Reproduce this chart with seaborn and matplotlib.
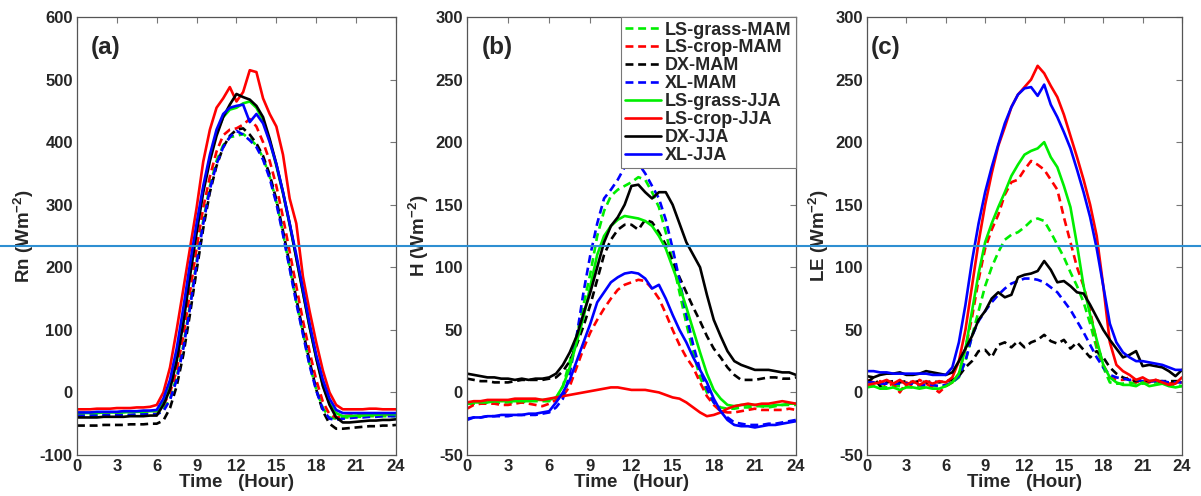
#!/usr/bin/env python3
"""Diurnal cycles of Rn, H and LE for the four sites, MAM vs JJA."""
import numpy as np
import pandas as pd
import matplotlib
matplotlib.use('Agg')
import matplotlib.pyplot as plt
from matplotlib.lines import Line2D
import seaborn as sns

hours = np.arange(0, 24.5, 0.5)

names = ['LS-grass-MAM', 'LS-crop-MAM', 'DX-MAM', 'XL-MAM',
         'LS-grass-JJA', 'LS-crop-JJA', 'DX-JJA', 'XL-JJA']
colors = ['#00ee00', '#ff0000', '#000000', '#0000ff',
          '#00ee00', '#ff0000', '#000000', '#0000ff']
styles = ['--', '--', '--', '--', '-', '-', '-', '-']

# ---- (a) Rn, half-hourly, 0..24 h
rn_grass_mam = [-37, -37, -37, -37, -37, -36, -36, -36, -36, -36, -35, -35, -35, -28, -10, 25, 75, 140,
                210, 275, 330, 370, 395, 408, 410, 413, 405, 395, 375, 345, 305, 255, 200, 145, 95, 45,
                5, -25, -40, -42, -40, -40, -39, -39, -38, -38, -38, -38, -38]
rn_crop_mam = [-33, -33, -33, -32, -32, -32, -32, -31, -31, -31, -31, -30, -30, -20, 0, 35, 90, 160,
               230, 295, 345, 385, 411, 420, 422, 428, 437, 425, 400, 370, 330, 280, 225, 170, 115, 65,
               20, -15, -35, -40, -38, -37, -37, -36, -36, -36, -35, -35, -35]
rn_dx_mam = [-53, -53, -53, -53, -52, -52, -52, -52, -51, -51, -51, -50, -50, -45, -25, 10, 60, 125,
             195, 262, 320, 362, 392, 410, 420, 422, 412, 398, 378, 348, 308, 258, 205, 150, 98, 50,
             5, -30, -50, -58, -58, -57, -56, -55, -54, -54, -53, -53, -52]
rn_xl_mam = [-37, -37, -37, -36, -36, -36, -36, -36, -36, -35, -35, -35, -35, -30, -12, 20, 70, 135,
             205, 270, 325, 365, 392, 408, 418, 412, 403, 392, 372, 342, 302, 252, 198, 143, 93, 43,
             3, -27, -42, -44, -42, -41, -40, -40, -39, -39, -38, -38, -38]
rn_grass_jja = [-33, -33, -33, -33, -32, -32, -32, -32, -31, -31, -31, -30, -30, -15, 10, 58, 122, 195,
                262, 325, 375, 415, 440, 452, 455, 462, 465, 455, 435, 402, 362, 318, 268, 215, 160, 105,
                55, 12, -18, -33, -38, -38, -37, -37, -36, -36, -35, -35, -35]
rn_crop_jja = [-27, -27, -27, -26, -26, -26, -25, -25, -25, -24, -24, -23, -20, 0, 40, 100, 165, 230,
               295, 369, 420, 455, 470, 488, 465, 480, 515, 512, 470, 445, 425, 380, 310, 270, 185, 130,
               80, 35, 0, -20, -27, -27, -27, -27, -26, -26, -27, -27, -27]
rn_dx_jja = [-40, -40, -40, -40, -39, -39, -39, -39, -38, -38, -38, -37, -37, -20, 5, 50, 110, 185,
             255, 320, 370, 410, 440, 460, 477, 472, 468, 458, 440, 405, 365, 320, 270, 215, 160, 105,
             55, 10, -20, -40, -48, -48, -47, -46, -45, -45, -44, -44, -43]
rn_xl_jja = [-32, -32, -32, -31, -31, -31, -31, -30, -30, -30, -29, -29, -28, -10, 20, 70, 135, 205,
             270, 330, 380, 420, 445, 455, 458, 460, 432, 445, 430, 400, 365, 320, 270, 220, 165, 110,
             60, 20, -10, -28, -33, -33, -33, -33, -33, -33, -33, -33, -33]

# ---- (b) H
h_grass_mam = [-9, -9, -9, -8, -9, -8, -8, -8, -8, -7, -7, -7, -7, -5, 5, 25, 45, 70,
               95, 125, 145, 157, 162, 165, 168, 172, 170, 160, 148, 128, 105, 80, 55, 32, 12, 0,
               -8, -12, -13, -13, -12, -12, -11, -11, -12, -11, -10, -10, -10]
h_crop_mam = [-13, -10, -9, -9, -9, -10, -10, -9, -8, -9, -10, -11, -9, -6, -3, 5, 20, 35,
              48, 58, 67, 75, 82, 86, 88, 90, 89, 83, 75, 63, 50, 38, 28, 20, 8, -3,
              -10, -15, -16, -16, -15, -14, -13, -14, -14, -14, -14, -13, -14]
h_dx_mam = [11, 10, 9, 9, 8, 8, 8, 9, 10, 10, 10, 10, 11, 12, 17, 25, 38, 53,
            70, 90, 110, 122, 130, 134, 134, 130, 138, 136, 128, 118, 105, 92, 80, 68, 57, 45,
            35, 28, 20, 14, 10, 10, 10, 11, 12, 12, 11, 11, 12]
h_xl_mam = [-21, -20, -20, -19, -19, -19, -19, -18, -18, -18, -18, -17, -16, -12, -5, 15, 45, 80,
            110, 135, 155, 162, 170, 180, 185, 183, 175, 165, 155, 138, 115, 90, 62, 38, 18, 3,
            -8, -15, -20, -24, -25, -26, -26, -26, -25, -25, -24, -23, -22]
h_grass_jja = [-8, -8, -8, -8, -7, -7, -7, -7, -7, -7, -6, -6, -6, -4, 5, 20, 40, 60,
               85, 110, 125, 133, 138, 141, 140, 139, 137, 133, 125, 115, 100, 85, 68, 50, 32, 15,
               2, -5, -10, -11, -10, -10, -10, -11, -11, -10, -10, -9, -9]
h_crop_jja = [-8, -7, -7, -6, -6, -6, -6, -5, -5, -5, -5, -6, -5, -4, -3, -2, -1, 0,
              1, 2, 3, 4, 4, 3, 2, 2, 2, 1, 0, -2, -4, -5, -8, -12, -16, -19,
              -18, -16, -13, -11, -10, -9, -10, -9, -9, -8, -7, -8, -9]
h_dx_jja = [15, 14, 13, 12, 12, 11, 11, 10, 11, 10, 11, 11, 12, 15, 22, 32, 45, 63,
            80, 100, 120, 133, 140, 150, 165, 166, 160, 155, 160, 160, 150, 135, 120, 110, 100, 78,
            58, 45, 33, 25, 22, 20, 18, 18, 18, 17, 16, 16, 14]
h_xl_jja = [-22, -20, -20, -19, -19, -18, -18, -18, -18, -17, -17, -16, -15, -8, 0, 10, 25, 40,
            55, 72, 80, 88, 92, 95, 96, 95, 91, 83, 86, 75, 62, 50, 40, 28, 18, 8,
            -5, -15, -22, -26, -27, -27, -28, -27, -26, -26, -25, -24, -23]

# ---- (c) LE
le_grass_mam = [5, 5, 5, 4, 5, 5, 5, 4, 5, 5, 5, 5, 5, 8, 12, 25, 45, 65,
                85, 100, 112, 122, 126, 128, 132, 137, 139, 137, 128, 118, 108, 96, 85, 72, 55, 35,
                20, 8, 7, 7, 8, 7, 7, 8, 8, 7, 6, 6, 5]
le_crop_mam = [10, 8, 9, 5, 7, 0, 8, 5, 10, 7, 4, 0, 5, 8, 15, 35, 60, 90,
               115, 130, 142, 158, 168, 170, 178, 185, 182, 178, 170, 162, 140, 120, 100, 85, 65, 40,
               22, 12, 10, 10, 12, 8, 10, 8, 10, 8, 7, 8, 8]
le_dx_mam = [8, 12, 5, 8, 9, 8, 9, 8, 9, 8, 9, 8, 9, 10, 13, 20, 25, 33,
             34, 28, 38, 40, 36, 41, 36, 40, 42, 46, 41, 39, 42, 35, 40, 34, 28, 33,
             28, 20, 15, 12, 10, 9, 10, 9, 9, 9, 9, 9, 9]
le_xl_mam = [8, 8, 7, 7, 7, 7, 7, 7, 6, 6, 6, 5, 6, 8, 13, 25, 45, 57,
             65, 72, 78, 83, 87, 89, 91, 91, 90, 88, 84, 80, 73, 66, 57, 48, 38, 28,
             20, 14, 12, 11, 10, 10, 9, 9, 9, 9, 8, 8, 8]
le_grass_jja = [4, 5, 3, 3, 4, 2, 4, 4, 3, 4, 3, 3, 5, 8, 15, 35, 65, 95,
                120, 135, 148, 160, 173, 182, 190, 193, 195, 200, 188, 180, 165, 148, 118, 85, 62, 42,
                22, 12, 8, 6, 6, 5, 8, 5, 6, 7, 5, 4, 5]
le_crop_jja = [6, 7, 8, 10, 7, 10, 6, 9, 6, 9, 7, 9, 8, 12, 25, 50, 85, 120,
               150, 175, 197, 212, 228, 238, 244, 250, 261, 255, 245, 236, 222, 205, 188, 170, 150, 125,
               85, 40, 22, 17, 14, 10, 12, 9, 10, 8, 6, 7, 12]
le_dx_jja = [13, 12, 14, 15, 15, 16, 14, 14, 15, 17, 16, 15, 14, 16, 25, 35, 45, 58,
             65, 75, 80, 76, 78, 92, 94, 95, 97, 105, 98, 88, 89, 85, 80, 79, 70, 60,
             50, 42, 35, 28, 30, 33, 21, 22, 21, 20, 17, 13, 18]
le_xl_jja = [17, 17, 16, 16, 15, 15, 15, 15, 15, 15, 14, 14, 14, 20, 40, 70, 105, 135,
             160, 180, 198, 215, 228, 238, 243, 244, 237, 246, 230, 220, 208, 195, 178, 160, 140, 115,
             85, 55, 40, 32, 28, 25, 25, 24, 23, 22, 20, 18, 18]

panels = [
    ('(a)', r'Rn (Wm$^{-2}$)', (-100, 600), np.arange(-100, 601, 100),
     [rn_grass_mam, rn_crop_mam, rn_dx_mam, rn_xl_mam, rn_grass_jja, rn_crop_jja, rn_dx_jja, rn_xl_jja]),
    ('(b)', r'H (Wm$^{-2}$)', (-50, 300), np.arange(-50, 301, 50),
     [h_grass_mam, h_crop_mam, h_dx_mam, h_xl_mam, h_grass_jja, h_crop_jja, h_dx_jja, h_xl_jja]),
    ('(c)', r'LE (Wm$^{-2}$)', (-50, 300), np.arange(-50, 301, 50),
     [le_grass_mam, le_crop_mam, le_dx_mam, le_xl_mam, le_grass_jja, le_crop_jja, le_dx_jja, le_xl_jja]),
]

sns.set_style('white')
plt.rcParams['font.family'] = ['Liberation Sans', 'DejaVu Sans']
plt.rcParams['font.weight'] = 'bold'
plt.rcParams['axes.unicode_minus'] = False
plt.rcParams['mathtext.fontset'] = 'custom'
plt.rcParams['mathtext.rm'] = 'Liberation Sans:bold'
plt.rcParams['mathtext.it'] = 'Liberation Sans:bold'
plt.rcParams['mathtext.bf'] = 'Liberation Sans:bold'

fig = plt.figure(figsize=(12.01, 4.96), dpi=100)
boxes = [(0.0641, 0.0827, 0.2656, 0.883),
         (0.3888, 0.0827, 0.2740, 0.883),
         (0.7219, 0.0827, 0.2623, 0.883)]

for (tag, ylab, ylim, yticks, series), box in zip(panels, boxes):
    ax = fig.add_axes(box)
    for name, vals, c, ls in zip(names, series, colors, styles):
        df = pd.DataFrame({'hour': hours, 'val': vals})
        sns.lineplot(data=df, x='hour', y='val', color=c, linestyle=ls, lw=1.9,
                     ax=ax, label=name, legend=False)
        if ls == '--':
            ax.lines[-1].set_dashes((3.0, 1.8))
    ax.set_xlim(0, 24)
    ax.set_ylim(*ylim)
    ax.set_xticks(np.arange(0, 25, 3))
    ax.set_yticks(yticks)
    ax.tick_params(direction='in', length=4, width=0.8, color='#777777', top=True, right=True,
                   labelsize=12, pad=3)
    for lab in ax.get_xticklabels() + ax.get_yticklabels():
        lab.set_fontweight('bold')
    for sp in ax.spines.values():
        sp.set_color('#555555')
        sp.set_linewidth(0.9)
    ax.set_xlabel('Time   (Hour)', fontsize=13.5, fontweight='bold', labelpad=0)
    ax.set_ylabel(ylab, fontsize=13.5, fontweight='bold', labelpad=3)
    tx = 0.044 if tag != '(c)' else 0.012
    ax.text(tx, 0.93, tag, transform=ax.transAxes, fontsize=17.5, fontweight='bold', va='center')

    if tag == '(b)':
        handles = [Line2D([], [], color=c, linestyle=ls, lw=1.9) for c, ls in zip(colors, styles)]
        for h, ls in zip(handles, styles):
            if ls == '--':
                h.set_dashes((3.0, 1.8))
        leg = ax.legend(handles, names, loc='upper right', fontsize=13, frameon=True,
                        fancybox=False, edgecolor='#777777', framealpha=1,
                        handlelength=2.0, handletextpad=0.2, labelspacing=0.05,
                        borderpad=0.25, borderaxespad=0.0)
        leg.get_frame().set_linewidth(0.8)
        for t in leg.get_texts():
            t.set_fontweight('bold')

# thin horizontal rule that crosses the whole figure
fig.add_artist(Line2D([0, 1], [0.504, 0.504], transform=fig.transFigure,
                      color='#2e8fd2', lw=1.5))

fig.savefig('out.png', dpi=100)
